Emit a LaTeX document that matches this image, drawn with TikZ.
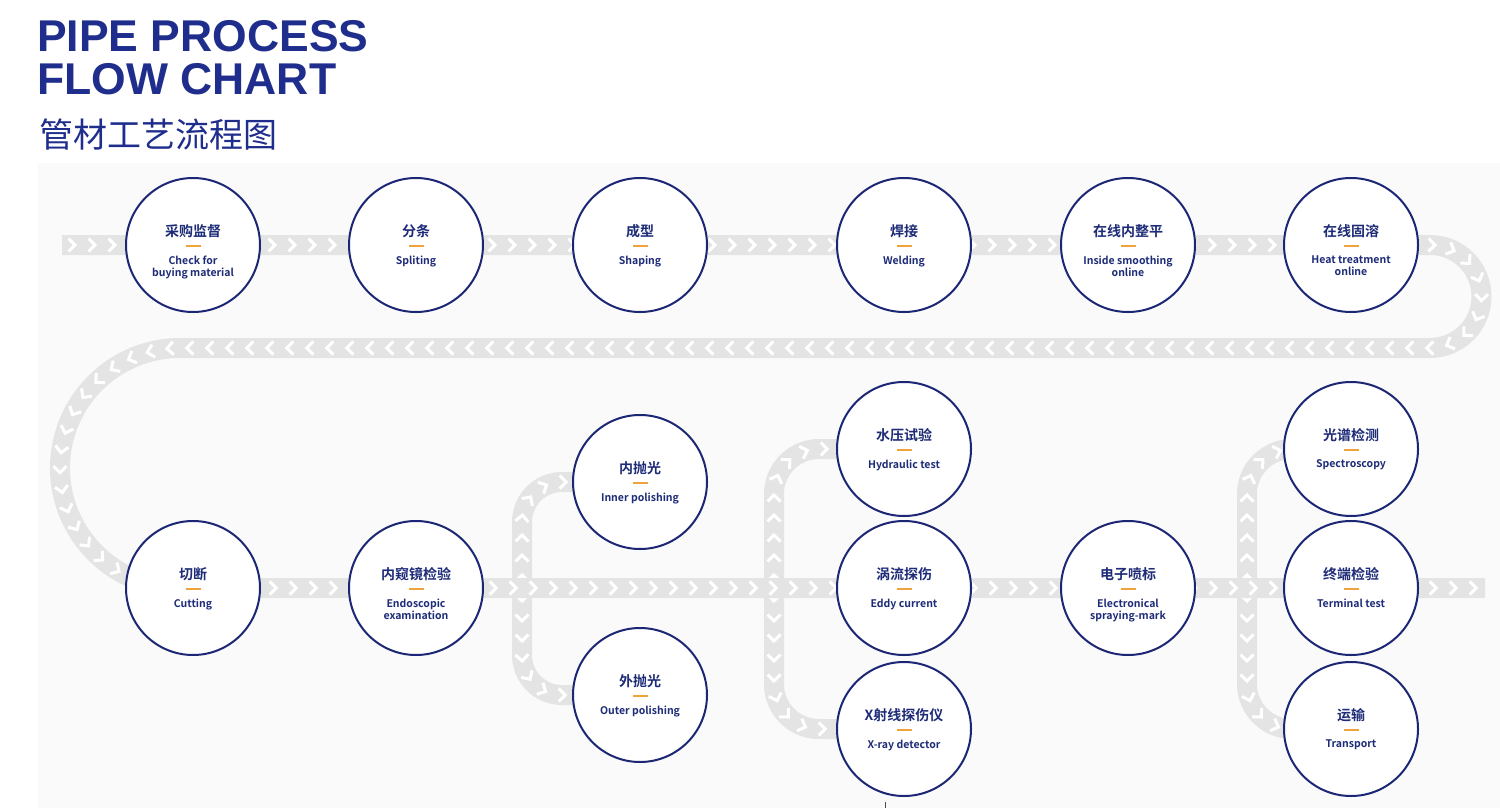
\documentclass[tikz,border=0pt]{standalone}
\usepackage{fontspec}
\usetikzlibrary{decorations.markings}
\newfontfamily\cjk{Noto Sans CJK SC}[BoldFont={Noto Sans CJK SC Bold}]
\newfontfamily\titlefont{Liberation Sans}
\definecolor{titlenavy}{HTML}{1F2E8C}
\definecolor{circnavy}{HTML}{1B2775}
\definecolor{txtnavy}{HTML}{1E2C78}
\definecolor{dashorange}{HTML}{F0A23B}
\definecolor{trackgray}{HTML}{E4E4E4}
\definecolor{panelgray}{HTML}{FAFAFA}
\begin{document}
\begin{tikzpicture}[x=1pt,y=-1pt,
    track/.style={draw=trackgray, line width=20pt,
      postaction={decorate, decoration={markings,
        mark=between positions 10pt and -4pt step 20pt with {\draw[chev] (-3.5pt,-6.5pt) -- (3pt,0pt) -- (-3.5pt,6.5pt);}}}},
    chev/.style={draw=white, line width=3pt},
    circ/.style={circle, draw=circnavy, line width=2pt, fill=white, minimum size=134pt, inner sep=0pt},
    cn/.style={font=\cjk\bfseries\fontsize{14}{16}\selectfont, text=txtnavy, inner sep=0pt},
    en/.style={font=\cjk\bfseries\fontsize{10.5}{12}\selectfont, text=txtnavy, align=center, anchor=north, inner sep=0pt},
    bar/.style={fill=dashorange, minimum width=15pt, minimum height=2pt, inner sep=0pt}]
    \useasboundingbox (0,0) rectangle (1500,808);

    % panel
    \fill[panelgray] (38,163) rectangle (1500,808);

    % title
    \node[anchor=base west, inner sep=0pt, text=titlenavy, font=\titlefont\bfseries\fontsize{44.5}{50}\selectfont] (title1) at (37,52) {PIPE PROCESS};
    \node[anchor=base west, inner sep=0pt, text=titlenavy, font=\titlefont\bfseries\fontsize{44.5}{50}\selectfont] (title2) at (37,95) {FLOW CHART};
    \node[anchor=base west, inner sep=0pt, text=titlenavy, font=\cjk\fontsize{34}{40}\selectfont] (title3) at (39,147) {管材工艺流程图};

    % branches
    \draw[track] (522,588) -- (522,522) arc[start angle=180, end angle=270, radius=40] -- (640,482);
    \draw[track] (522,588) -- (522,655) arc[start angle=180, end angle=90, radius=40] -- (640,695);
    \draw[track] (774,588) -- (774,494) arc[start angle=180, end angle=270, radius=45] -- (904,449);
    \draw[track] (774,588) -- (774,684) arc[start angle=180, end angle=90, radius=45] -- (904,729);
    \draw[track] (1247,588) -- (1247,494) arc[start angle=180, end angle=270, radius=45] -- (1351,449);
    \draw[track] (1247,588) -- (1247,684) arc[start angle=180, end angle=90, radius=45] -- (1351,729);

    % main line
    \draw[track] (62,245) -- (1430,245) arc[start angle=-90, end angle=90, radius=51.5]
      -- (180,348) arc[start angle=270, end angle=90, radius=120] -- (1485,588);

    % steps
    \foreach \nm/\x/\y/\zh/\eng in {
        buy/193/245/采购监督/{Check for\\buying material},
        split/416/245/分条/{Spliting},
        shape/640/245/成型/{Shaping},
        weld/904/245/焊接/{Welding},
        smooth/1128/245/在线内整平/{Inside smoothing\\online},
        heat/1351/245/在线固溶/{Heat treatment\\online},
        cut/193/588/切断/{Cutting},
        endo/416/588/内窥镜检验/{Endoscopic\\examination},
        inpol/640/482/内抛光/{Inner polishing},
        outpol/640/695/外抛光/{Outer polishing},
        hydro/904/449/水压试验/{Hydraulic test},
        eddy/904/588/涡流探伤/{Eddy current},
        xray/904/729/X射线探伤仪/{X-ray detector},
        spray/1128/588/电子喷标/{Electronical\\spraying-mark},
        spec/1351/449/光谱检测/{Spectroscopy},
        term/1351/588/终端检验/{Terminal test},
        trans/1351/729/运输/{Transport}} {
      \node[circ] (\nm) at (\x,\y) {};
      \node[cn] (\nm-zh) at (\x,\y-14) {\zh};
      \node[bar] (\nm-bar) at (\x,\y+1) {};
      \node[en] (\nm-en) at (\x,\y+10.5) {\eng};
    }

    \draw[line width=1pt, black!70] (885,802) -- (885,808);
\end{tikzpicture}
\end{document}
